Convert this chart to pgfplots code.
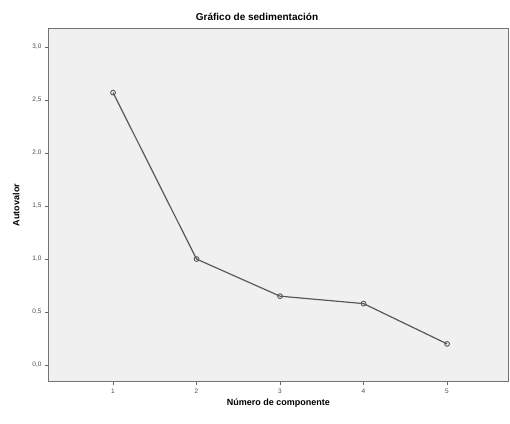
\documentclass[border=0pt]{standalone}
\usepackage{pgfplots}
\pgfplotsset{compat=1.18}
\usepackage{fontspec}
\setmainfont{Liberation Sans}
\begin{document}
\begin{tikzpicture}
\begin{axis}[
  scale only axis,
  width=459pt, height=352pt,
  xmin=0.233, xmax=5.73,
  ymin=-0.15, ymax=3.17,
  xtick={1,2,3,4,5},
  ytick={0,0.5,1,1.5,2,2.5,3},
  tick align=outside,
  major tick length=4pt,
  tick style={color=black!60, line width=0.6pt},
  xtick pos=bottom, ytick pos=left,
  axis line style={color=black!55, line width=1pt},
  axis background/.style={fill=black!6},
  /pgf/number format/assume math mode=true,
  yticklabel style={font=\fontsize{6.5}{7}\selectfont, text=black!70, /pgf/number format/.cd, fixed, fixed zerofill, precision=1, use comma},
  xticklabel style={font=\fontsize{6.5}{7}\selectfont, text=black!70},
  xlabel={\bfseries Número de componente},
  ylabel={\bfseries Autovalor},
  label style={font=\fontsize{9}{10}\selectfont\bfseries},
  xlabel style={yshift=1pt},
  ylabel style={yshift=6pt},
  clip=false,
]
\addplot[color=black!65, line width=1.2pt, mark=o, mark size=2.4pt, mark options={fill=black!6, line width=0.9pt}]
  coordinates {(1,2.57) (2,1.00) (3,0.65) (4,0.58) (5,0.20)};
\coordinate (bl) at (rel axis cs:0,0);
\coordinate (tr) at (rel axis cs:1,1);
\node[font=\fontsize{10}{11}\selectfont\bfseries] at ([shift={(-21.5pt,12pt)}]rel axis cs:0.5,1) {Gráfico de sedimentación};
\end{axis}
\pgfresetboundingbox
\path ([shift={(-49pt,-43pt)}]bl) rectangle ([shift={(2pt,29pt)}]tr);
\end{tikzpicture}
\end{document}
